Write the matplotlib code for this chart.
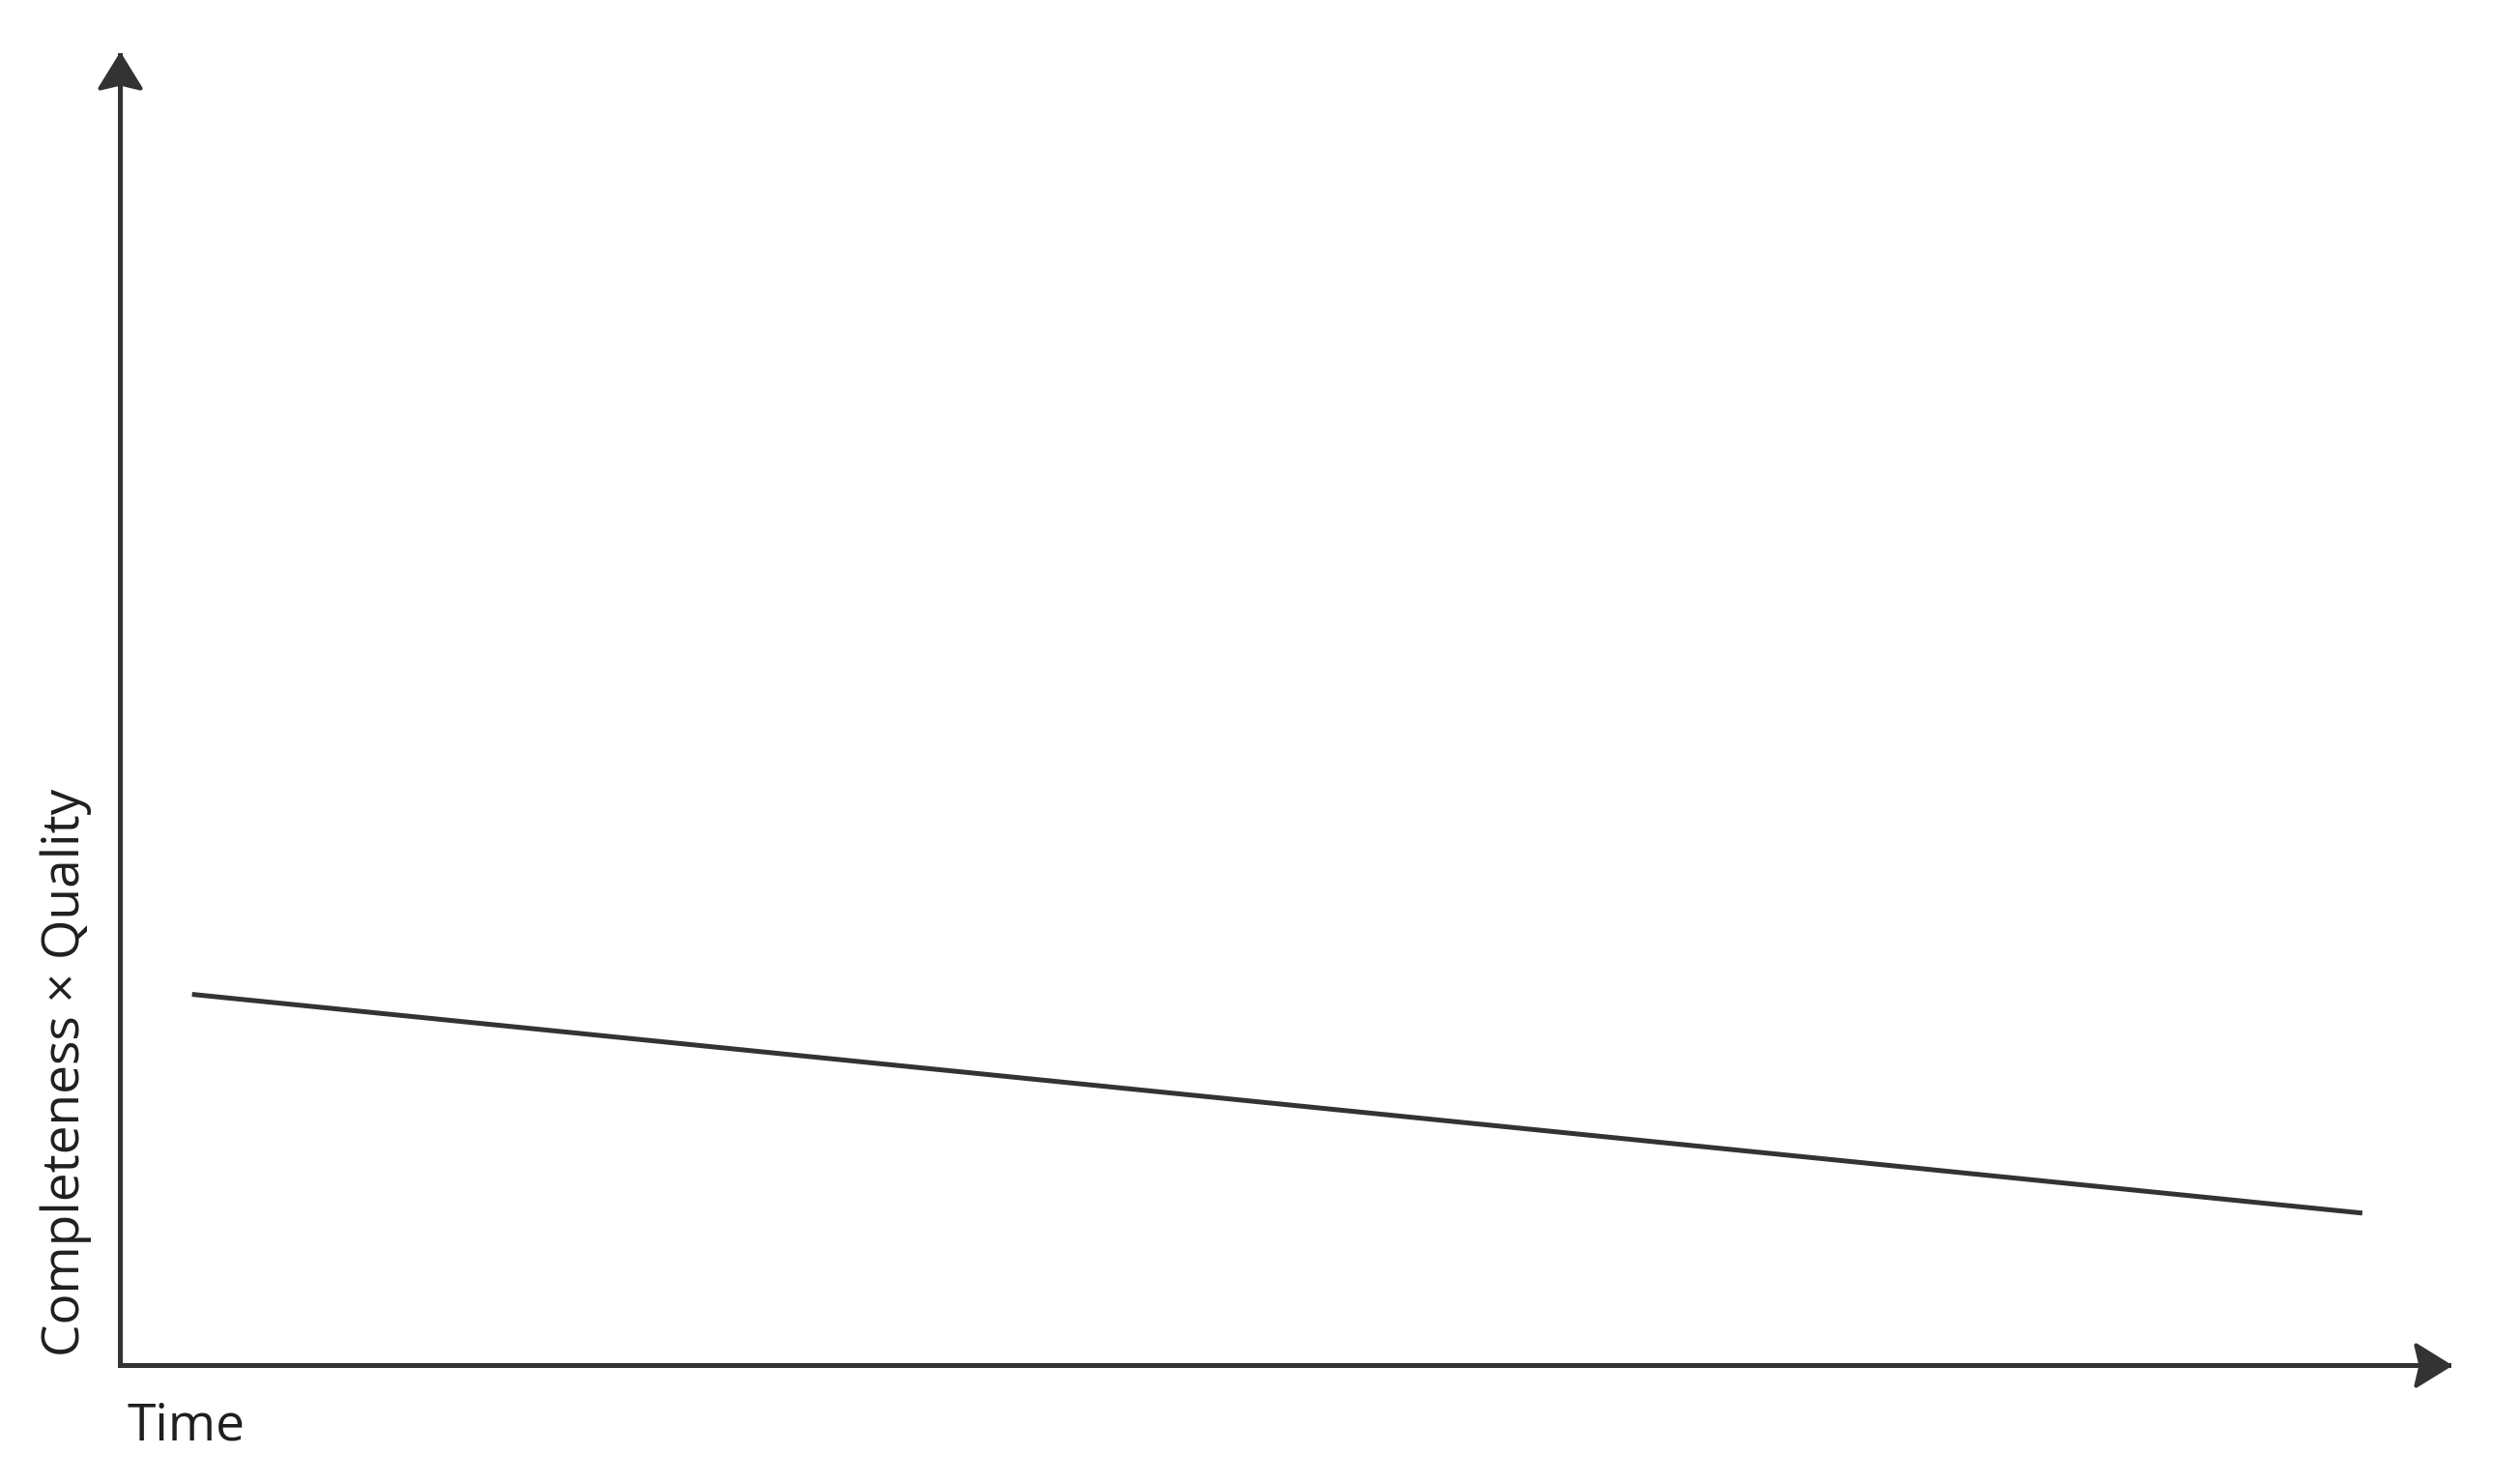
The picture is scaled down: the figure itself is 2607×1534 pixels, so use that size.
import matplotlib
matplotlib.use("Agg")
import matplotlib.pyplot as plt
from matplotlib.path import Path
from matplotlib.markers import MarkerStyle

# Data (axis units 0..100 on both axes)
time_values = [3.1, 96.3]
score_values = [28.3, 11.6]

x_label = "Time"
y_label = "Completeness \u00d7 Quality"

INK = "#333333"
TEXT = "#1f1f1f"

plt.rcParams['font.family'] = ['Open Sans', 'DejaVu Sans']

W, H, DPI = 2607, 1534, 100
fig = plt.figure(figsize=(W / DPI, H / DPI), dpi=DPI)
fig.patch.set_facecolor("white")

# axes from the corner of the two arrows to their tips (pixel positions)
left, bottom = 124, 1534 - 1412
right, top = 2533, 1534 - 57
ax = fig.add_axes([left / W, bottom / H, (right - left) / W, (top - bottom) / H])
ax.set_xlim(0, 100)
ax.set_ylim(0, 100)
for spine in ax.spines.values():
    spine.set_visible(False)
ax.set_xticks([])
ax.set_yticks([])
ax.patch.set_alpha(0)

# notched arrow heads, tip at the marker origin
head_up = Path([(0, 0), (-21, -34), (0, -29), (21, -34), (0, 0)],
               [Path.MOVETO, Path.LINETO, Path.LINETO, Path.LINETO,
                Path.CLOSEPOLY])
head_right = Path([(0, 0), (-34, 21), (-29, 0), (-34, -21), (0, 0)],
                  [Path.MOVETO, Path.LINETO, Path.LINETO, Path.LINETO,
                   Path.CLOSEPOLY])
head_size = 68 * 72 / DPI  # marker size in points

# axis lines
ax.plot([0, 100], [0, 0], color=INK, lw=3.6, solid_capstyle="projecting",
        clip_on=False)
ax.plot([0, 0], [0, 100], color=INK, lw=3.6, solid_capstyle="projecting",
        clip_on=False)
ax.plot([100], [0], linestyle="none", clip_on=False,
        marker=MarkerStyle(head_right, joinstyle="round"), ms=head_size,
        mfc=INK, mec=INK, mew=3)
ax.plot([0], [100], linestyle="none", clip_on=False,
        marker=MarkerStyle(head_up, joinstyle="round"), ms=head_size,
        mfc=INK, mec=INK, mew=3)

# the series
ax.plot(time_values, score_values, color=INK, lw=3.6,
        solid_capstyle="butt", clip_on=False)

# labels
fig.text(132 / W, 1 - 1490 / H, x_label, fontsize=38.3, color=TEXT,
         ha="left", va="baseline")
fig.text(82 / W, 1 - 1403 / H, y_label, fontsize=38.3, color=TEXT,
         rotation=90, rotation_mode="anchor", ha="left", va="baseline")

fig.savefig("out.png", dpi=DPI, facecolor="white")
